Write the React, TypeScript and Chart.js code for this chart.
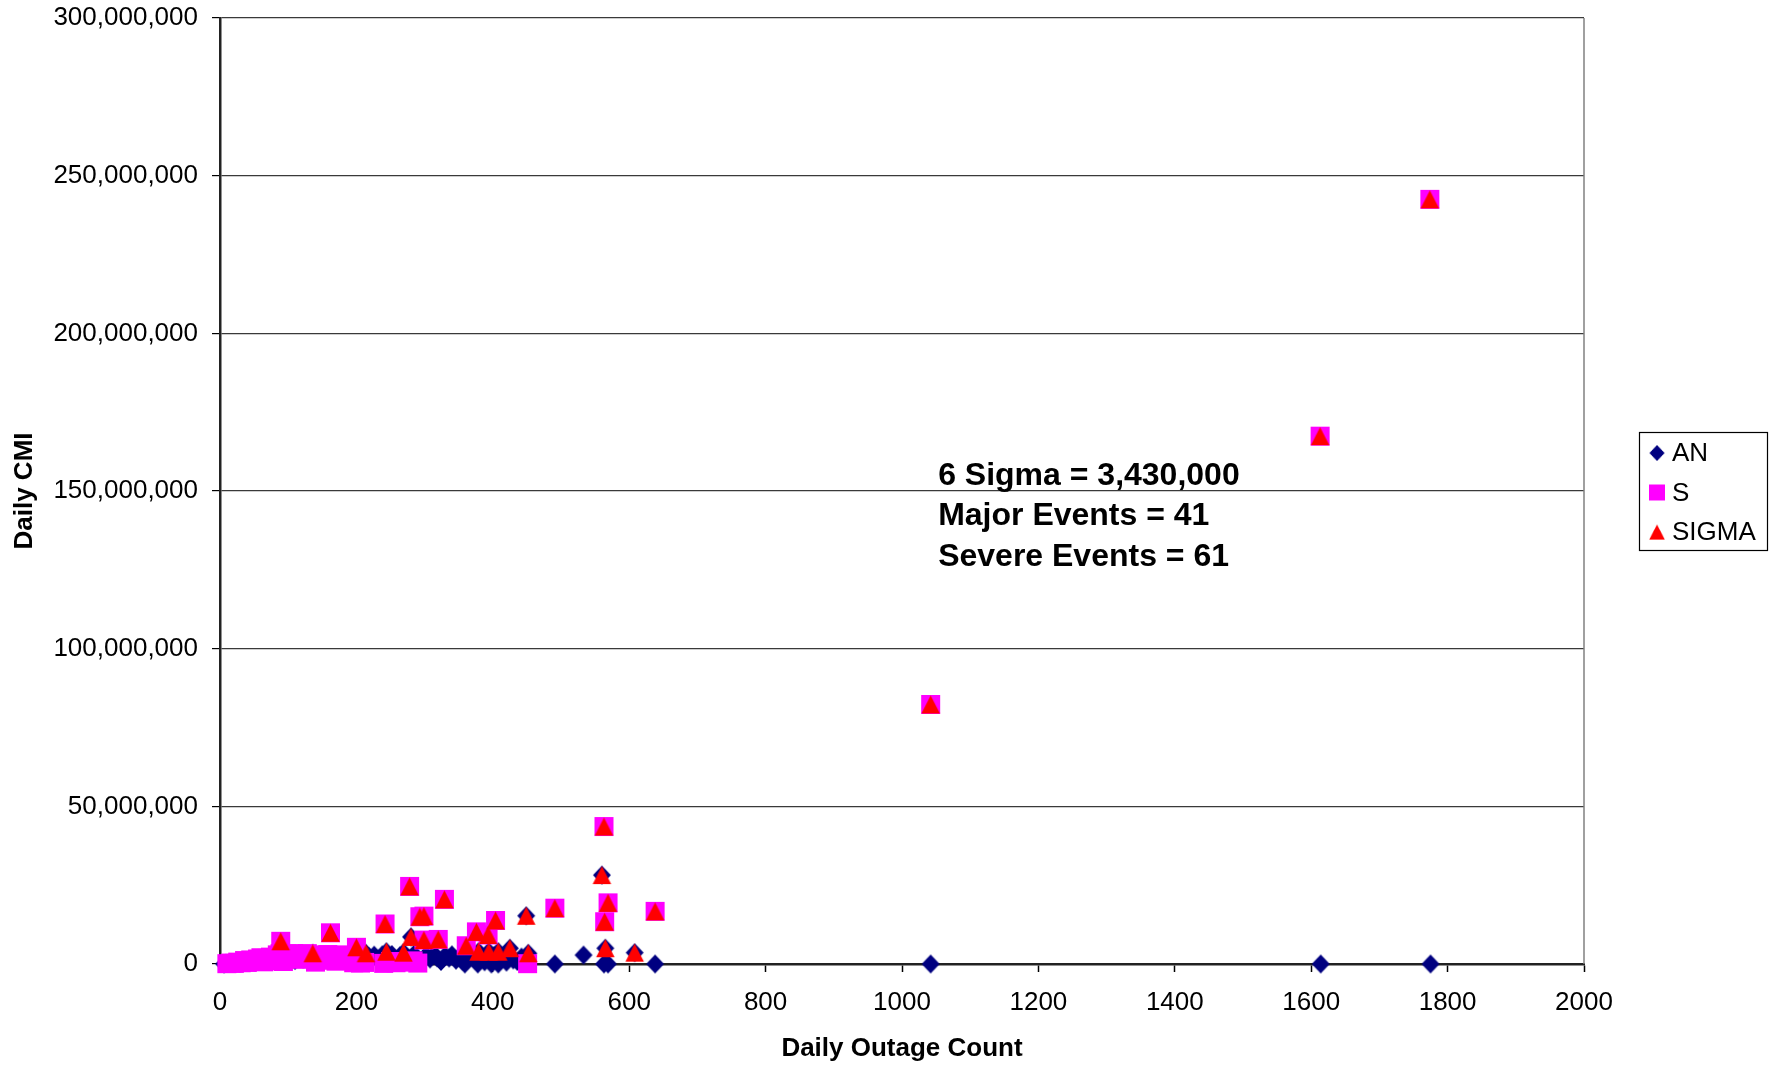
import React, { useEffect, useRef } from "react";
import { Chart, registerables } from "chart.js";
Chart.register(...registerables);

// ---------- DATA ----------
const seriesNames = ["AN", "S", "SIGMA"];

const anX = [6, 14, 22, 30, 40, 52, 63, 75, 86, 98, 110, 122, 134, 146, 158, 170, 182, 194, 206, 218, 226, 232, 238, 246, 252, 258, 264, 270, 276, 284, 288, 294, 302, 308, 314, 318, 324, 330, 336, 340, 346, 352, 356, 362, 368, 374, 382, 388, 396, 402, 410, 416, 420, 430, 436, 442, 359, 378, 398, 408, 491, 533, 563, 569, 638, 1042, 1614, 1775, 136, 214, 244, 269, 280, 379, 394, 408, 425, 449, 452, 560, 565, 608];
const anY = [0, 0.2e6, 0.4e6, 0.3e6, 0.6e6, 0.8e6, 1.0e6, 0.9e6, 1.2e6, 1.4e6, 1.1e6, 1.6e6, 2.0e6, 1.5e6, 1.8e6, 2.2e6, 1.3e6, 2.5e6, 1.9e6, 2.4e6, 2.8e6, 1.5e6, 2.9e6, 2.2e6, 3.0e6, 1.1e6, 2.6e6, 2.9e6, 1.8e6, 3.0e6, 2.3e6, 1.0e6, 2.7e6, 1.6e6, 3.1e6, 2.0e6, 0.8e6, 2.6e6, 1.9e6, 2.9e6, 1.2e6, 2.5e6, 0.9e6, 2.1e6, 2.8e6, 1.4e6, 2.9e6, 0.7e6, 1.9e6, 2.6e6, 1.2e6, 2.3e6, 0.6e6, 1.3e6, 0.8e6, 2.2e6, 0, 0, 0, 0, 0, 2.85e6, 0, 0, 0, 0, 0, 0, 3.4e6, 3.4e6, 3.9e6, 3.6e6, 8.6e6, 3.9e6, 3.9e6, 3.9e6, 5.0e6, 15.3e6, 3.4e6, 28.2e6, 5.0e6, 3.6e6];

const sX = [10, 16, 21, 26, 31, 36, 40, 45, 50, 55, 60, 64, 69, 74, 79, 84, 88, 93, 98, 103, 108, 113, 118, 123, 128, 133, 140, 147, 153, 158, 164, 170, 176, 182, 188, 196, 206, 212, 240, 250, 258, 274, 283, 290, 451, 1774, 1613, 1042, 563, 569, 564, 491, 638, 278, 329, 293, 299, 242, 299, 320, 376, 393, 404, 361, 89, 162, 200];
const sY = [0.1e6, 0.3e6, 0.2e6, 0.6e6, 0.4e6, 1.1e6, 0.5e6, 1.3e6, 0.9e6, 1.6e6, 2.0e6, 0.7e6, 1.8e6, 2.2e6, 1.0e6, 2.9e6, 3.3e6, 0.8e6, 3.2e6, 2.6e6, 3.3e6, 1.5e6, 3.1e6, 2.4e6, 3.3e6, 1.9e6, 0.6e6, 2.9e6, 1.2e6, 3.0e6, 2.5e6, 0.9e6, 2.9e6, 1.7e6, 2.2e6, 0.4e6, 0.3e6, 0.5e6, 0.2e6, 0.8e6, 0.4e6, 0.6e6, 1.0e6, 0.3e6, 0.1e6, 242.5e6, 167.4e6, 82.3e6, 43.6e6, 19.4e6, 13.4e6, 17.7e6, 16.7e6, 24.6e6, 20.5e6, 15.0e6, 15.2e6, 12.7e6, 7.6e6, 7.8e6, 10.2e6, 9.2e6, 13.8e6, 5.8e6, 7.2e6, 9.9e6, 5.3e6];

const sigmaX = [1774, 1613, 1042, 563, 560, 569, 564, 491, 638, 449, 565, 608, 452, 278, 329, 293, 299, 242, 280, 299, 320, 376, 393, 404, 361, 379, 394, 408, 425, 244, 269, 89, 162, 136, 200, 214];
const sigmaY = [242.5e6, 167.4e6, 82.3e6, 43.6e6, 28.2e6, 19.4e6, 13.4e6, 17.7e6, 16.7e6, 15.3e6, 5.0e6, 3.6e6, 3.4e6, 24.6e6, 20.5e6, 15.0e6, 15.2e6, 12.7e6, 8.6e6, 7.6e6, 7.8e6, 10.2e6, 9.2e6, 13.8e6, 5.8e6, 3.9e6, 3.9e6, 3.9e6, 5.0e6, 3.9e6, 3.6e6, 7.2e6, 9.9e6, 3.4e6, 5.3e6, 3.4e6];

const xTickStep = 200;
const yTickStep = 50000000;
const xMax = 2000;
const yMax = 300000000;

const annotationLines = ["6 Sigma = 3,430,000", "Major Events = 41", "Severe Events = 61"];
const annotationAnchorX = 1053;
const annotationAnchorY = 154.8e6;

// ---------- STYLE ----------
const FONT = "'Liberation Sans', Arial, Helvetica, sans-serif";
const colors = ["#000080", "#FF00FF", "#FF0000"];
const shapes = ["diamond", "square", "triangle"];
const markerW = [18, 18.5, 18.5];
const markerH = [19, 18.5, 18];

function toPoints(xs: number[], ys: number[]) {
  return xs.map((x, i) => ({ x, y: ys[i] }));
}

function makeMarker(shape: string, color: string, w: number, h: number): HTMLCanvasElement {
  const cw = Math.ceil(w) + 2;
  const ch = Math.ceil(h) + 2;
  const c = document.createElement("canvas");
  c.width = cw;
  c.height = ch;
  const ctx = c.getContext("2d")!;
  const cx = cw / 2;
  const cy = ch / 2;
  const hw = w / 2;
  const hh = h / 2;
  ctx.fillStyle = color;
  ctx.beginPath();
  if (shape === "diamond") {
    ctx.moveTo(cx, cy - hh);
    ctx.lineTo(cx + hw, cy);
    ctx.lineTo(cx, cy + hh);
    ctx.lineTo(cx - hw, cy);
  } else if (shape === "square") {
    ctx.rect(Math.round(cx - hw), Math.round(cy - hh), Math.round(w), Math.round(h));
  } else {
    ctx.moveTo(cx, cy - hh);
    ctx.lineTo(cx + hw, cy + hh);
    ctx.lineTo(cx - hw, cy + hh);
  }
  ctx.closePath();
  ctx.fill();
  return c;
}

function makeDecorPlugin(markers: HTMLCanvasElement[]) {
  return {
    id: "decor",
    afterDraw(chart: any) {
      const { ctx, chartArea, scales } = chart;
      ctx.save();
      // plot area right border
      ctx.strokeStyle = "#808080";
      ctx.lineWidth = 1.5;
      ctx.beginPath();
      ctx.moveTo(chartArea.right, chartArea.top);
      ctx.lineTo(chartArea.right, chartArea.bottom);
      ctx.stroke();

      // annotation text
      const ax = scales.x.getPixelForValue(annotationAnchorX);
      const ay = scales.y.getPixelForValue(annotationAnchorY);
      ctx.fillStyle = "#000";
      ctx.font = `bold 32px ${FONT}`;
      ctx.textAlign = "left";
      ctx.textBaseline = "middle";
      annotationLines.forEach((t, i) => ctx.fillText(t, ax, ay + i * 40.8));

      // legend
      const boxLeft = chartArea.right + 55;
      const boxW = 128;
      const boxH = 118;
      const boxTop = (chartArea.top + chartArea.bottom) / 2 - boxH / 2;
      ctx.strokeStyle = "#000";
      ctx.lineWidth = 1.2;
      ctx.strokeRect(boxLeft + 0.5, boxTop + 0.5, boxW, boxH);
      ctx.font = `26px ${FONT}`;
      seriesNames.forEach((name, i) => {
        const cy = boxTop + 21 + i * 39.5;
        const m = markers[i];
        const s = 16 / Math.max(m.width - 2, m.height - 2);
        const w = m.width * s;
        const h = m.height * s;
        ctx.drawImage(m, boxLeft + 18 - w / 2, cy - h / 2, w, h);
        ctx.fillStyle = "#000";
        ctx.fillText(name, boxLeft + 33, cy + 1);
      });
      ctx.restore();
    },
  };
}

export default function App() {
  const ref = useRef<HTMLCanvasElement>(null);
  useEffect(() => {
    document.body.style.margin = "0";
    const markers = shapes.map((s, i) => makeMarker(s, colors[i], markerW[i], markerH[i]));
    const datasets = [
      toPoints(anX, anY),
      toPoints(sX, sY),
      toPoints(sigmaX, sigmaY),
    ].map((data, i) => ({
      label: seriesNames[i],
      data,
      pointStyle: markers[i] as any,
      pointRadius: 10,
      pointHoverRadius: 10,
      backgroundColor: colors[i],
      borderColor: colors[i],
      borderWidth: 0,
      showLine: false,
      clip: false as any,
      order: 2 - i,
    }));
    const chart = new Chart(ref.current!, {
      type: "scatter",
      data: { datasets },
      plugins: [makeDecorPlugin(markers)],
      options: {
        responsive: false,
        animation: false,
        devicePixelRatio: 1,
        layout: { padding: { top: 18, right: 194, left: 0, bottom: 0 } },
        plugins: { legend: { display: false }, tooltip: { enabled: false } },
        scales: {
          x: {
            type: "linear",
            min: 0,
            max: xMax,
            ticks: {
              stepSize: xTickStep,
              color: "#000",
              font: { family: FONT, size: 26 },
              padding: 15,
              maxRotation: 0,
              callback: (v: any) => String(v),
            },
            grid: { drawOnChartArea: false, tickLength: 8, color: "#000", tickColor: "#000", tickWidth: 1.5 },
            border: { color: "#222", width: 2.5 },
            title: {
              display: true,
              text: "Daily Outage Count",
              color: "#000",
              font: { family: FONT, size: 26, weight: "bold" },
              padding: { top: 0, bottom: 3 },
            },
            afterFit: (s: any) => {
              s.height = 103;
              s.paddingLeft = 0;
              s.paddingRight = 0;
            },
          },
          y: {
            type: "linear",
            min: 0,
            max: yMax,
            ticks: {
              stepSize: yTickStep,
              color: "#000",
              font: { family: FONT, size: 26 },
              padding: 14,
              callback: (v: any) => Number(v).toLocaleString("en-US"),
            },
            grid: { color: "#3a3a3a", lineWidth: 1.2, tickLength: 8, tickColor: "#000" },
            border: { color: "#222", width: 2.5 },
            title: {
              display: true,
              text: "Daily CMI",
              color: "#000",
              font: { family: FONT, size: 26, weight: "bold" },
              padding: { top: 9, bottom: 0 },
            },
            afterFit: (s: any) => {
              s.width = 220;
              s.paddingTop = 0;
              s.paddingBottom = 0;
            },
          },
        },
      },
    });
    return () => chart.destroy();
  }, []);
  return (
    <div style={{ position: "fixed", left: 0, top: 0, width: 1778, height: 1067, background: "#fff" }}>
      <canvas ref={ref} width={1778} height={1067} />
    </div>
  );
}
